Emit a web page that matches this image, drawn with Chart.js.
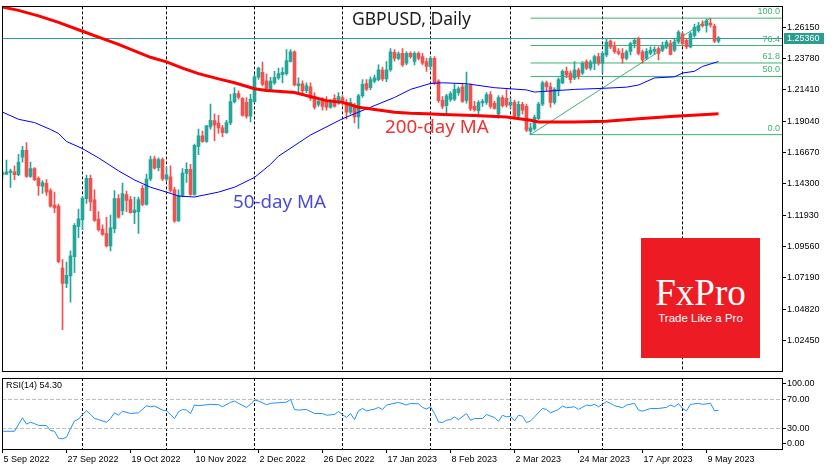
<!DOCTYPE html>
<html>
<head>
<meta charset="utf-8">
<title>GBPUSD Daily</title>
<script src="https://cdn.jsdelivr.net/npm/chart.js@4.4.0/dist/chart.umd.min.js"></script>
<style>
  html, body { margin: 0; padding: 0; background: #fff; }
  #wrap { position: relative; width: 835px; height: 470px; overflow: hidden; background: #fff; }
  #main { position: absolute; left: 0; top: 0; }
  #rsi { position: absolute; left: 0; top: 374px; }
  .logo {
    position: absolute; left: 641px; top: 238px; width: 119px; height: 120px;
    background: #ed1c24; color: #fff; text-align: center;
  }
  .logo .fx { font-family: "Liberation Serif", serif; font-size: 37px; line-height: 37px; margin-top: 36px; }
  .logo .tag { font-family: "Liberation Sans", sans-serif; font-size: 11.5px; margin-top: 1px; }
</style>
</head>
<body>
<div id="wrap">
  <canvas id="main" width="835" height="378"></canvas>
  <canvas id="rsi" width="835" height="96"></canvas>
  <div class="logo"><div class="fx">FxPro</div><div class="tag">Trade Like a Pro</div></div>
</div>
<script>
// ---- data (one bar per trading day, 5 Sep 2022 .. 12 May 2023) ----
const opens = [
  1.1499, 1.1504, 1.1516, 1.1521, 1.1499, 1.1632, 1.1684, 1.1486, 1.1546, 1.1472,
  1.1412, 1.1435, 1.1380, 1.1269, 1.1262, 1.0793, 1.0677, 1.0734, 1.0879, 1.1109,
  1.1158, 1.1319, 1.1472, 1.1310, 1.1163, 1.1089, 1.1055, 1.0960, 1.1092, 1.1319,
  1.1225, 1.1349, 1.1312, 1.1212, 1.1220, 1.1397, 1.1275, 1.1467, 1.1620, 1.1553,
  1.1615, 1.1466, 1.1484, 1.1386, 1.1150, 1.1343, 1.1509, 1.1541, 1.1351, 1.1714,
  1.1793, 1.1751, 1.1862, 1.1910, 1.1891, 1.1854, 1.1817, 1.1891, 1.2052, 1.2114,
  1.2077, 1.2047, 1.1943, 1.2052, 1.2237, 1.2274, 1.2210, 1.2141, 1.2195, 1.2232,
  1.2257, 1.2264, 1.2356, 1.2430, 1.2173, 1.2188, 1.2136, 1.2165, 1.2091, 1.2032,
  1.2062, 1.2055, 1.2010, 1.2077, 1.2040, 1.2084, 1.2047, 1.1973, 1.2025, 1.1936,
  1.2097, 1.2190, 1.2158, 1.2208, 1.2219, 1.2291, 1.2225, 1.2294, 1.2425, 1.2380,
  1.2417, 1.2343, 1.2417, 1.2356, 1.2417, 1.2393, 1.2356, 1.2319, 1.2380, 1.2208,
  1.2062, 1.2022, 1.2069, 1.2071, 1.2121, 1.2165, 1.2062, 1.2178, 1.2017, 1.1985,
  1.2043, 1.2047, 1.2106, 1.2040, 1.1958, 1.2084, 1.2077, 1.2025, 1.2047, 1.1943,
  1.2032, 1.2017, 1.1829, 1.1847, 1.1923, 1.2034, 1.2195, 1.2165, 1.2047, 1.2143,
  1.2195, 1.2282, 1.2269, 1.2232, 1.2291, 1.2269, 1.2356, 1.2306, 1.2343, 1.2393,
  1.2343, 1.2405, 1.2511, 1.2469, 1.2432, 1.2417, 1.2380, 1.2432, 1.2491, 1.2528,
  1.2430, 1.2380, 1.2417, 1.2432, 1.2454, 1.2442, 1.2467, 1.2491, 1.2442, 1.2504,
  1.2565, 1.2516, 1.2467, 1.2553, 1.2590, 1.2640, 1.2627, 1.2647, 1.2625, 1.2510
];
const highs = [
  1.1529, 1.1610, 1.1543, 1.1566, 1.1654, 1.1714, 1.1743, 1.1595, 1.1553, 1.1484,
  1.1455, 1.1462, 1.1395, 1.1368, 1.1277, 1.0857, 1.0838, 1.0923, 1.1129, 1.1240,
  1.1336, 1.1497, 1.1497, 1.1386, 1.1220, 1.1121, 1.1178, 1.1195, 1.1380, 1.1349,
  1.1437, 1.1375, 1.1336, 1.1331, 1.1331, 1.1417, 1.1504, 1.1640, 1.1640, 1.1627,
  1.1627, 1.1558, 1.1566, 1.1405, 1.1386, 1.1546, 1.1590, 1.1578, 1.1731, 1.1845,
  1.1830, 1.1874, 1.2034, 1.1960, 1.1948, 1.1874, 1.1911, 1.2108, 1.2158, 1.2134,
  1.2084, 1.2084, 1.2108, 1.2257, 1.2314, 1.2351, 1.2262, 1.2237, 1.2282, 1.2306,
  1.2311, 1.2447, 1.2447, 1.2437, 1.2232, 1.2210, 1.2195, 1.2195, 1.2121, 1.2077,
  1.2084, 1.2091, 1.2069, 1.2106, 1.2121, 1.2099, 1.2069, 1.2077, 1.2040, 1.2108,
  1.2219, 1.2219, 1.2240, 1.2254, 1.2331, 1.2314, 1.2356, 1.2454, 1.2447, 1.2430,
  1.2454, 1.2430, 1.2430, 1.2430, 1.2430, 1.2417, 1.2380, 1.2393, 1.2393, 1.2219,
  1.2091, 1.2108, 1.2128, 1.2188, 1.2165, 1.2188, 1.2277, 1.2188, 1.2054, 1.2060,
  1.2069, 1.2121, 1.2128, 1.2054, 1.2099, 1.2099, 1.2144, 1.2077, 1.2062, 1.2054,
  1.2047, 1.2034, 1.1891, 1.1951, 1.2047, 1.2208, 1.2208, 1.2195, 1.2158, 1.2232,
  1.2294, 1.2314, 1.2286, 1.2356, 1.2306, 1.2356, 1.2368, 1.2366, 1.2405, 1.2417,
  1.2432, 1.2528, 1.2521, 1.2504, 1.2454, 1.2454, 1.2442, 1.2504, 1.2534, 1.2541,
  1.2442, 1.2454, 1.2467, 1.2467, 1.2467, 1.2504, 1.2516, 1.2516, 1.2528, 1.2590,
  1.2578, 1.2528, 1.2578, 1.2640, 1.2652, 1.2664, 1.2677, 1.2682, 1.2640, 1.2545
];
const lows = [
  1.1469, 1.1499, 1.1403, 1.1462, 1.1492, 1.1595, 1.1479, 1.1479, 1.1455, 1.1343,
  1.1358, 1.1343, 1.1254, 1.1212, 1.0832, 1.0327, 1.0645, 1.0536, 1.0758, 1.1023,
  1.1084, 1.1282, 1.1227, 1.1146, 1.1072, 1.1040, 1.0953, 1.0923, 1.1060, 1.1171,
  1.1195, 1.1220, 1.1208, 1.1129, 1.1055, 1.1264, 1.1269, 1.1455, 1.1541, 1.1529,
  1.1455, 1.1455, 1.1368, 1.1138, 1.1146, 1.1331, 1.1442, 1.1343, 1.1343, 1.1652,
  1.1743, 1.1743, 1.1845, 1.1758, 1.1812, 1.1788, 1.1812, 1.1879, 1.2042, 1.2071,
  1.1943, 1.1928, 1.1899, 1.2047, 1.2220, 1.2171, 1.2141, 1.2134, 1.2183, 1.2220,
  1.2195, 1.2252, 1.2351, 1.2171, 1.2128, 1.2099, 1.2121, 1.2062, 1.1995, 1.2017,
  1.1988, 1.1988, 1.2002, 1.2010, 1.2032, 1.2025, 1.1921, 1.1958, 1.1891, 1.1849,
  1.2084, 1.2136, 1.2143, 1.2195, 1.2210, 1.2210, 1.2203, 1.2282, 1.2358, 1.2368,
  1.2319, 1.2331, 1.2380, 1.2331, 1.2368, 1.2331, 1.2282, 1.2294, 1.2183, 1.2047,
  1.1997, 1.1948, 1.2054, 1.2060, 1.2099, 1.2047, 1.2040, 1.1985, 1.1980, 1.1936,
  1.2017, 1.2032, 1.2002, 1.1995, 1.1928, 1.2010, 1.2010, 1.2002, 1.1921, 1.1928,
  1.1958, 1.1825, 1.1803, 1.1837, 1.1914, 1.2022, 1.2136, 1.2010, 1.2034, 1.2097,
  1.2188, 1.2232, 1.2195, 1.2219, 1.2225, 1.2257, 1.2294, 1.2291, 1.2294, 1.2328,
  1.2269, 1.2393, 1.2454, 1.2417, 1.2405, 1.2343, 1.2368, 1.2405, 1.2459, 1.2405,
  1.2343, 1.2368, 1.2405, 1.2410, 1.2368, 1.2430, 1.2454, 1.2405, 1.2430, 1.2491,
  1.2479, 1.2454, 1.2459, 1.2541, 1.2578, 1.2615, 1.2578, 1.2615, 1.2499, 1.2499
];
const closes = [
  1.1514, 1.1521, 1.1529, 1.1499, 1.1595, 1.1684, 1.1486, 1.1546, 1.1462, 1.1417,
  1.1440, 1.1368, 1.1262, 1.1249, 1.0842, 1.0677, 1.0738, 1.0886, 1.1116, 1.1166,
  1.1323, 1.1472, 1.1294, 1.1153, 1.1084, 1.1047, 1.0960, 1.1097, 1.1319, 1.1178,
  1.1356, 1.1306, 1.1212, 1.1232, 1.1312, 1.1275, 1.1467, 1.1615, 1.1549, 1.1615,
  1.1467, 1.1499, 1.1380, 1.1150, 1.1343, 1.1512, 1.1541, 1.1351, 1.1721, 1.1793,
  1.1751, 1.1869, 1.1911, 1.1877, 1.1854, 1.1817, 1.1894, 1.2052, 1.2114, 1.2084,
  1.1948, 1.1943, 1.2071, 1.2240, 1.2306, 1.2183, 1.2147, 1.2208, 1.2237, 1.2264,
  1.2274, 1.2363, 1.2430, 1.2178, 1.2188, 1.2136, 1.2173, 1.2077, 1.2010, 1.2055,
  1.2017, 1.2010, 1.2047, 1.2017, 1.2091, 1.2047, 1.1973, 1.2047, 1.1936, 1.2097,
  1.2183, 1.2146, 1.2219, 1.2232, 1.2294, 1.2225, 1.2294, 1.2430, 1.2380, 1.2415,
  1.2331, 1.2417, 1.2393, 1.2417, 1.2380, 1.2343, 1.2319, 1.2380, 1.2195, 1.2060,
  1.2017, 1.2097, 1.2114, 1.2146, 1.2151, 1.2054, 1.2178, 1.1997, 1.1990, 1.2047,
  1.2054, 1.2106, 1.2017, 1.2002, 1.2084, 1.2022, 1.2025, 1.2047, 1.1943, 1.2032,
  1.1988, 1.1837, 1.1855, 1.1936, 1.2034, 1.2195, 1.2165, 1.2047, 1.2146, 1.2219,
  1.2282, 1.2254, 1.2219, 1.2294, 1.2247, 1.2343, 1.2306, 1.2351, 1.2393, 1.2343,
  1.2417, 1.2504, 1.2467, 1.2430, 1.2417, 1.2380, 1.2430, 1.2491, 1.2516, 1.2417,
  1.2368, 1.2434, 1.2442, 1.2449, 1.2417, 1.2479, 1.2504, 1.2410, 1.2504, 1.2578,
  1.2491, 1.2467, 1.2565, 1.2615, 1.2627, 1.2627, 1.2664, 1.2632, 1.2510, 1.2536
];

// moving averages at a handful of bars
const ma200Idx = [0, 4, 9, 14, 20, 24, 29, 33, 37, 41, 45, 49, 54, 58, 63, 66, 73, 81, 85, 89, 94, 98, 102, 106, 110, 118, 126, 132, 134, 143, 151, 159, 168, 176, 179];
const ma200Val = [1.2768, 1.2743, 1.2701, 1.2652, 1.2585, 1.2541, 1.2486, 1.2437, 1.2388, 1.2353, 1.2306, 1.2264, 1.2225, 1.2195, 1.2150, 1.2136, 1.2121, 1.2060, 1.2047, 1.2010, 1.1990, 1.1973, 1.1965, 1.1960, 1.1956, 1.1948, 1.1936, 1.1911, 1.1899, 1.1899, 1.1904, 1.1923, 1.1941, 1.1956, 1.1960];
const ma50Idx = [0, 4, 8, 12, 14, 16, 20, 24, 29, 33, 37, 41, 44, 48, 54, 58, 63, 67, 69, 77, 85, 89, 98, 102, 107, 110, 116, 123, 131, 133, 143, 150, 156, 159, 163, 168, 170, 173, 175, 179];
const ma50Val = [1.1973, 1.1919, 1.1894, 1.1842, 1.1812, 1.1751, 1.1697, 1.1627, 1.1529, 1.1460, 1.1405, 1.1368, 1.1338, 1.1331, 1.1368, 1.1405, 1.1479, 1.1578, 1.1640, 1.1800, 1.1923, 1.1973, 1.2084, 1.2145, 1.2190, 1.2195, 1.2188, 1.2158, 1.2141, 1.2125, 1.2145, 1.2153, 1.2162, 1.2178, 1.2232, 1.2240, 1.2269, 1.2282, 1.2319, 1.2356];

// RSI(14)
const rsiIdx = [0, 3, 5, 6, 7, 8, 9, 11, 12, 13, 14, 15, 16, 17, 18, 19, 20, 21, 22, 23, 24, 26, 27, 28, 29, 30, 32, 34, 36, 37, 38, 40, 41, 43, 44, 45, 46, 47, 48, 49, 52, 54, 55, 57, 58, 59, 61, 62, 63, 64, 66, 67, 69, 71, 72, 73, 74, 76, 78, 80, 81, 83, 84, 85, 86, 87, 88, 89, 90, 91, 93, 94, 95, 96, 99, 101, 102, 104, 105, 106, 107, 108, 109, 110, 111, 112, 113, 114, 116, 117, 118, 120, 121, 123, 124, 125, 126, 127, 128, 129, 130, 131, 132, 133, 135, 136, 137, 139, 140, 141, 143, 144, 146, 147, 148, 149, 151, 152, 153, 155, 156, 158, 159, 160, 162, 164, 166, 167, 168, 169, 170, 171, 172, 174, 175, 177, 178, 179];
const rsiVal = [25, 25, 44, 35, 37.6, 35.7, 33.3, 33, 26, 25, 15, 14.3, 16.7, 28.6, 39.5, 42, 48.6, 53.8, 49, 43, 41.4, 37.6, 43, 51, 47.6, 53.3, 50, 51, 61, 59.5, 60.5, 54.8, 53.8, 42.9, 52.4, 55.7, 54.8, 50, 61.9, 61, 62.9, 62.4, 59.5, 65.7, 67.6, 64.3, 58.6, 62.9, 69, 67.6, 62.4, 64.3, 65.2, 66, 70, 55.7, 54.8, 55.7, 50, 50, 47.6, 48.6, 52.9, 48.6, 44.3, 50, 41.4, 53.8, 57.1, 53.8, 56.2, 58.6, 55.7, 61.9, 65.7, 61.9, 64.3, 63.5, 58.6, 56.2, 59.5, 50, 38.1, 37.1, 40.5, 41.4, 45.2, 41.4, 50, 40.5, 42.9, 42.9, 48.6, 44.3, 39, 47.6, 45.2, 46.2, 39.5, 47.6, 46.2, 37.1, 39.5, 45.2, 57.1, 55.7, 51, 55.7, 60.5, 58.1, 59.5, 55.7, 61.9, 61, 62.9, 59.5, 66.7, 64.3, 61, 58.1, 61.9, 64.3, 54.8, 53.3, 57.1, 57.1, 58.6, 61.9, 59.5, 63.8, 57.1, 53.8, 62.9, 64.3, 62.9, 64.3, 53.8, 54.3];
const rsiTicks = [100, 70, 30, 0];
const rsiLevels = [70, 30];

// Fibonacci retracement, low bar 132 -> high bar 177
const fibLabels = ['100.0', '76.4', '61.8', '50.0', '0.0'];
const fibPrices = [1.2684, 1.2477, 1.2345, 1.2243, 1.1803];
const trendIdx = [132, 177];
const trendPrice = [1.1803, 1.2684];

// axes
const yTicks = [1.0245, 1.0482, 1.0719, 1.0956, 1.1193, 1.1430, 1.1667, 1.1904, 1.2141, 1.2378, 1.2615];
const xTickIdx = [0, 16, 32, 48, 64, 80, 96, 112, 128, 144, 160, 176];
const xTickLabels = ['5 Sep 2022', '27 Sep 2022', '19 Oct 2022', '10 Nov 2022', '2 Dec 2022', '26 Dec 2022', '17 Jan 2023', '8 Feb 2023', '2 Mar 2023', '24 Mar 2023', '17 Apr 2023', '9 May 2023'];
const monthStarts = [20, 41, 63, 85, 107, 127, 150, 170];

// ---- look ----
const BULL = '#26a69a';
const BEAR = '#ef5350';
const FIB = '#3cb371';
const PRICE_LINE = '#2a9d8f';
const SMALL = '9px "Liberation Sans"';
const AXIS_FONT = { family: 'Liberation Sans', size: 9 };
const X_MIN = -0.125, X_MAX = 194.875;
const lastPrice = closes[closes.length - 1];

const candleColor = ctx => closes[ctx.dataIndex] >= opens[ctx.dataIndex] ? BULL : BEAR;
const pts = (xs, ys) => xs.map((x, i) => ({ x: x, y: ys[i] }));

function drawSeparators(chart) {
  const { ctx, chartArea: a, scales: { x } } = chart;
  ctx.save();
  ctx.strokeStyle = '#000';
  ctx.lineWidth = 1;
  ctx.setLineDash([3, 2]);
  monthStarts.forEach(i => {
    const px = Math.floor(x.getPixelForValue(i)) + 0.5;
    ctx.beginPath(); ctx.moveTo(px, a.top); ctx.lineTo(px, a.bottom); ctx.stroke();
  });
  ctx.restore();
}

function drawFrame(chart) {
  const { ctx, chartArea: a } = chart;
  ctx.save();
  ctx.strokeStyle = '#000';
  ctx.lineWidth = 1;
  ctx.strokeRect(Math.round(a.left) + 0.5, Math.round(a.top) + 0.5, Math.round(a.right - a.left), Math.round(a.bottom - a.top));
  ctx.restore();
}

const mainDecor = {
  id: 'mainDecor',
  beforeDatasetsDraw(chart) {
    drawSeparators(chart);
    const { ctx, chartArea: a, scales: { y } } = chart;
    const py = Math.round(y.getPixelForValue(lastPrice)) + 0.5;
    ctx.save();
    ctx.strokeStyle = PRICE_LINE;
    ctx.lineWidth = 1;
    ctx.beginPath(); ctx.moveTo(a.left, py); ctx.lineTo(a.right, py); ctx.stroke();
    ctx.restore();
  },
  afterDatasetsDraw(chart) {
    const { ctx, chartArea: a, scales: { y } } = chart;
    ctx.save();
    // fib level captions
    ctx.font = SMALL;
    ctx.fillStyle = FIB;
    ctx.textAlign = 'right';
    ctx.textBaseline = 'bottom';
    fibLabels.forEach((t, i) => ctx.fillText(t, a.right - 2, y.getPixelForValue(fibPrices[i]) - 2));
    // title and MA captions
    ctx.textAlign = 'left';
    ctx.textBaseline = 'middle';
    ctx.font = '17.5px "Noto Sans"';
    ctx.fillStyle = '#1c1c1c';
    ctx.fillText('GBPUSD, Daily', 352, 20);
    ctx.font = '18.8px "Noto Sans"';
    ctx.fillStyle = '#f03232';
    ctx.fillText('200-day MA', 385, 128);
    ctx.fillStyle = '#4b4bd8';
    ctx.fillText('50-day MA', 233, 203);
    ctx.restore();
  },
  afterDraw(chart) {
    drawFrame(chart);
    const { ctx, chartArea: a, scales: { y } } = chart;
    const py = Math.round(y.getPixelForValue(lastPrice));
    ctx.save();
    ctx.fillStyle = PRICE_LINE;
    ctx.fillRect(a.right + 2, py - 5, 40, 11);
    ctx.fillStyle = '#fff';
    ctx.font = SMALL;
    ctx.textBaseline = 'middle';
    ctx.fillText(lastPrice.toFixed(5), a.right + 5, py + 0.5);
    ctx.restore();
  }
};

const rsiDecor = {
  id: 'rsiDecor',
  beforeDatasetsDraw(chart) {
    drawSeparators(chart);
    const { ctx, chartArea: a, scales: { y } } = chart;
    ctx.save();
    ctx.strokeStyle = '#c0c0c0';
    ctx.lineWidth = 1;
    ctx.setLineDash([4, 2]);
    rsiLevels.forEach(v => {
      const py = Math.round(y.getPixelForValue(v)) + 0.5;
      ctx.beginPath(); ctx.moveTo(a.left, py); ctx.lineTo(a.right, py); ctx.stroke();
    });
    ctx.restore();
  },
  afterDraw(chart) {
    drawFrame(chart);
    const { ctx, chartArea: a, scales: { y } } = chart;
    ctx.save();
    ctx.font = SMALL;
    ctx.fillStyle = '#000';
    ctx.strokeStyle = '#000';
    ctx.textBaseline = 'middle';
    rsiTicks.forEach(v => {
      const py = Math.round(Math.min(Math.max(y.getPixelForValue(v), a.top + 5), a.bottom - 6)) + 0.5;
      ctx.beginPath(); ctx.moveTo(a.right, py); ctx.lineTo(a.right + 4, py); ctx.stroke();
      ctx.fillText(v.toFixed(2), a.right + 5, py);
    });
    ctx.fillText('RSI(14) ' + rsiVal[rsiVal.length - 1].toFixed(2), a.left + 4, a.top + 8);
    ctx.restore();
  }
};

const fibSets = fibPrices.map(p => ({
  type: 'line', order: 3,
  data: [{ x: trendIdx[0], y: p }, { x: X_MAX, y: p }],
  borderColor: FIB, borderWidth: 1, pointRadius: 0
}));

new Chart(document.getElementById('main'), {
  type: 'bar',
  data: {
    datasets: [
      {
        type: 'line', order: 0, label: 'MA200',
        data: pts(ma200Idx, ma200Val),
        borderColor: '#ff0000', borderWidth: 3, pointRadius: 0
      },
      {
        type: 'line', order: 0, label: 'MA50',
        data: pts(ma50Idx, ma50Val),
        borderColor: '#0000ff', borderWidth: 1, pointRadius: 0
      },
      {
        label: 'body', order: 1,
        data: opens.map((o, i) => ({ x: i, y: [Math.min(o, closes[i]), Math.max(o, closes[i])] })),
        backgroundColor: candleColor, grouped: false, maxBarThickness: 3,
        barPercentage: 1, categoryPercentage: 1, minBarLength: 1, borderWidth: 0
      },
      {
        label: 'wick', order: 2,
        data: lows.map((l, i) => ({ x: i, y: [l, highs[i]] })),
        backgroundColor: candleColor, grouped: false, maxBarThickness: 1,
        barPercentage: 1, categoryPercentage: 1, minBarLength: 1, borderWidth: 0
      },
      {
        type: 'line', order: 3, label: 'trend',
        data: pts(trendIdx, trendPrice),
        borderColor: FIB, borderWidth: 1, pointRadius: 0
      },
      ...fibSets
    ]
  },
  options: {
    responsive: false,
    animation: false,
    devicePixelRatio: 1,
    events: [],
    layout: { padding: { left: 2, top: 2, right: 0, bottom: 3 } },
    plugins: { legend: { display: false }, tooltip: { enabled: false } },
    scales: {
      x: { type: 'linear', min: X_MIN, max: X_MAX, offset: false, display: false },
      y: {
        position: 'right', min: 1.0010, max: 1.2773,
        afterBuildTicks: s => { s.ticks = yTicks.map(v => ({ value: v })); },
        afterFit: s => { s.width = 53; },
        grid: { drawOnChartArea: false, drawTicks: true, tickLength: 4, color: '#000' },
        border: { display: false },
        ticks: { font: AXIS_FONT, color: '#000', padding: 1, callback: v => v.toFixed(5) }
      }
    }
  },
  plugins: [mainDecor]
});

new Chart(document.getElementById('rsi'), {
  type: 'line',
  data: {
    datasets: [{
      data: pts(rsiIdx, rsiVal),
      borderColor: '#1e90ff', borderWidth: 1, pointRadius: 0
    }]
  },
  options: {
    responsive: false,
    animation: false,
    devicePixelRatio: 1,
    events: [],
    layout: { padding: { left: 2, top: 4, right: 0, bottom: 0 } },
    plugins: { legend: { display: false }, tooltip: { enabled: false } },
    scales: {
      x: {
        type: 'linear', min: X_MIN, max: X_MAX, offset: false,
        afterBuildTicks: s => { s.ticks = xTickIdx.map(v => ({ value: v })); },
        afterFit: s => { s.height = 21; },
        grid: { drawOnChartArea: false, drawTicks: true, tickLength: 4, color: '#000' },
        border: { display: false },
        ticks: {
          font: AXIS_FONT, color: '#000', padding: 1, align: 'start', labelOffset: 1,
          maxRotation: 0, autoSkip: false,
          callback: v => xTickLabels[xTickIdx.indexOf(v)]
        }
      },
      y: {
        position: 'right', min: 0, max: 100,
        afterFit: s => { s.width = 53; },
        grid: { display: false },
        border: { display: false },
        ticks: { display: false }
      }
    }
  },
  plugins: [rsiDecor]
});
</script>
</body>
</html>
